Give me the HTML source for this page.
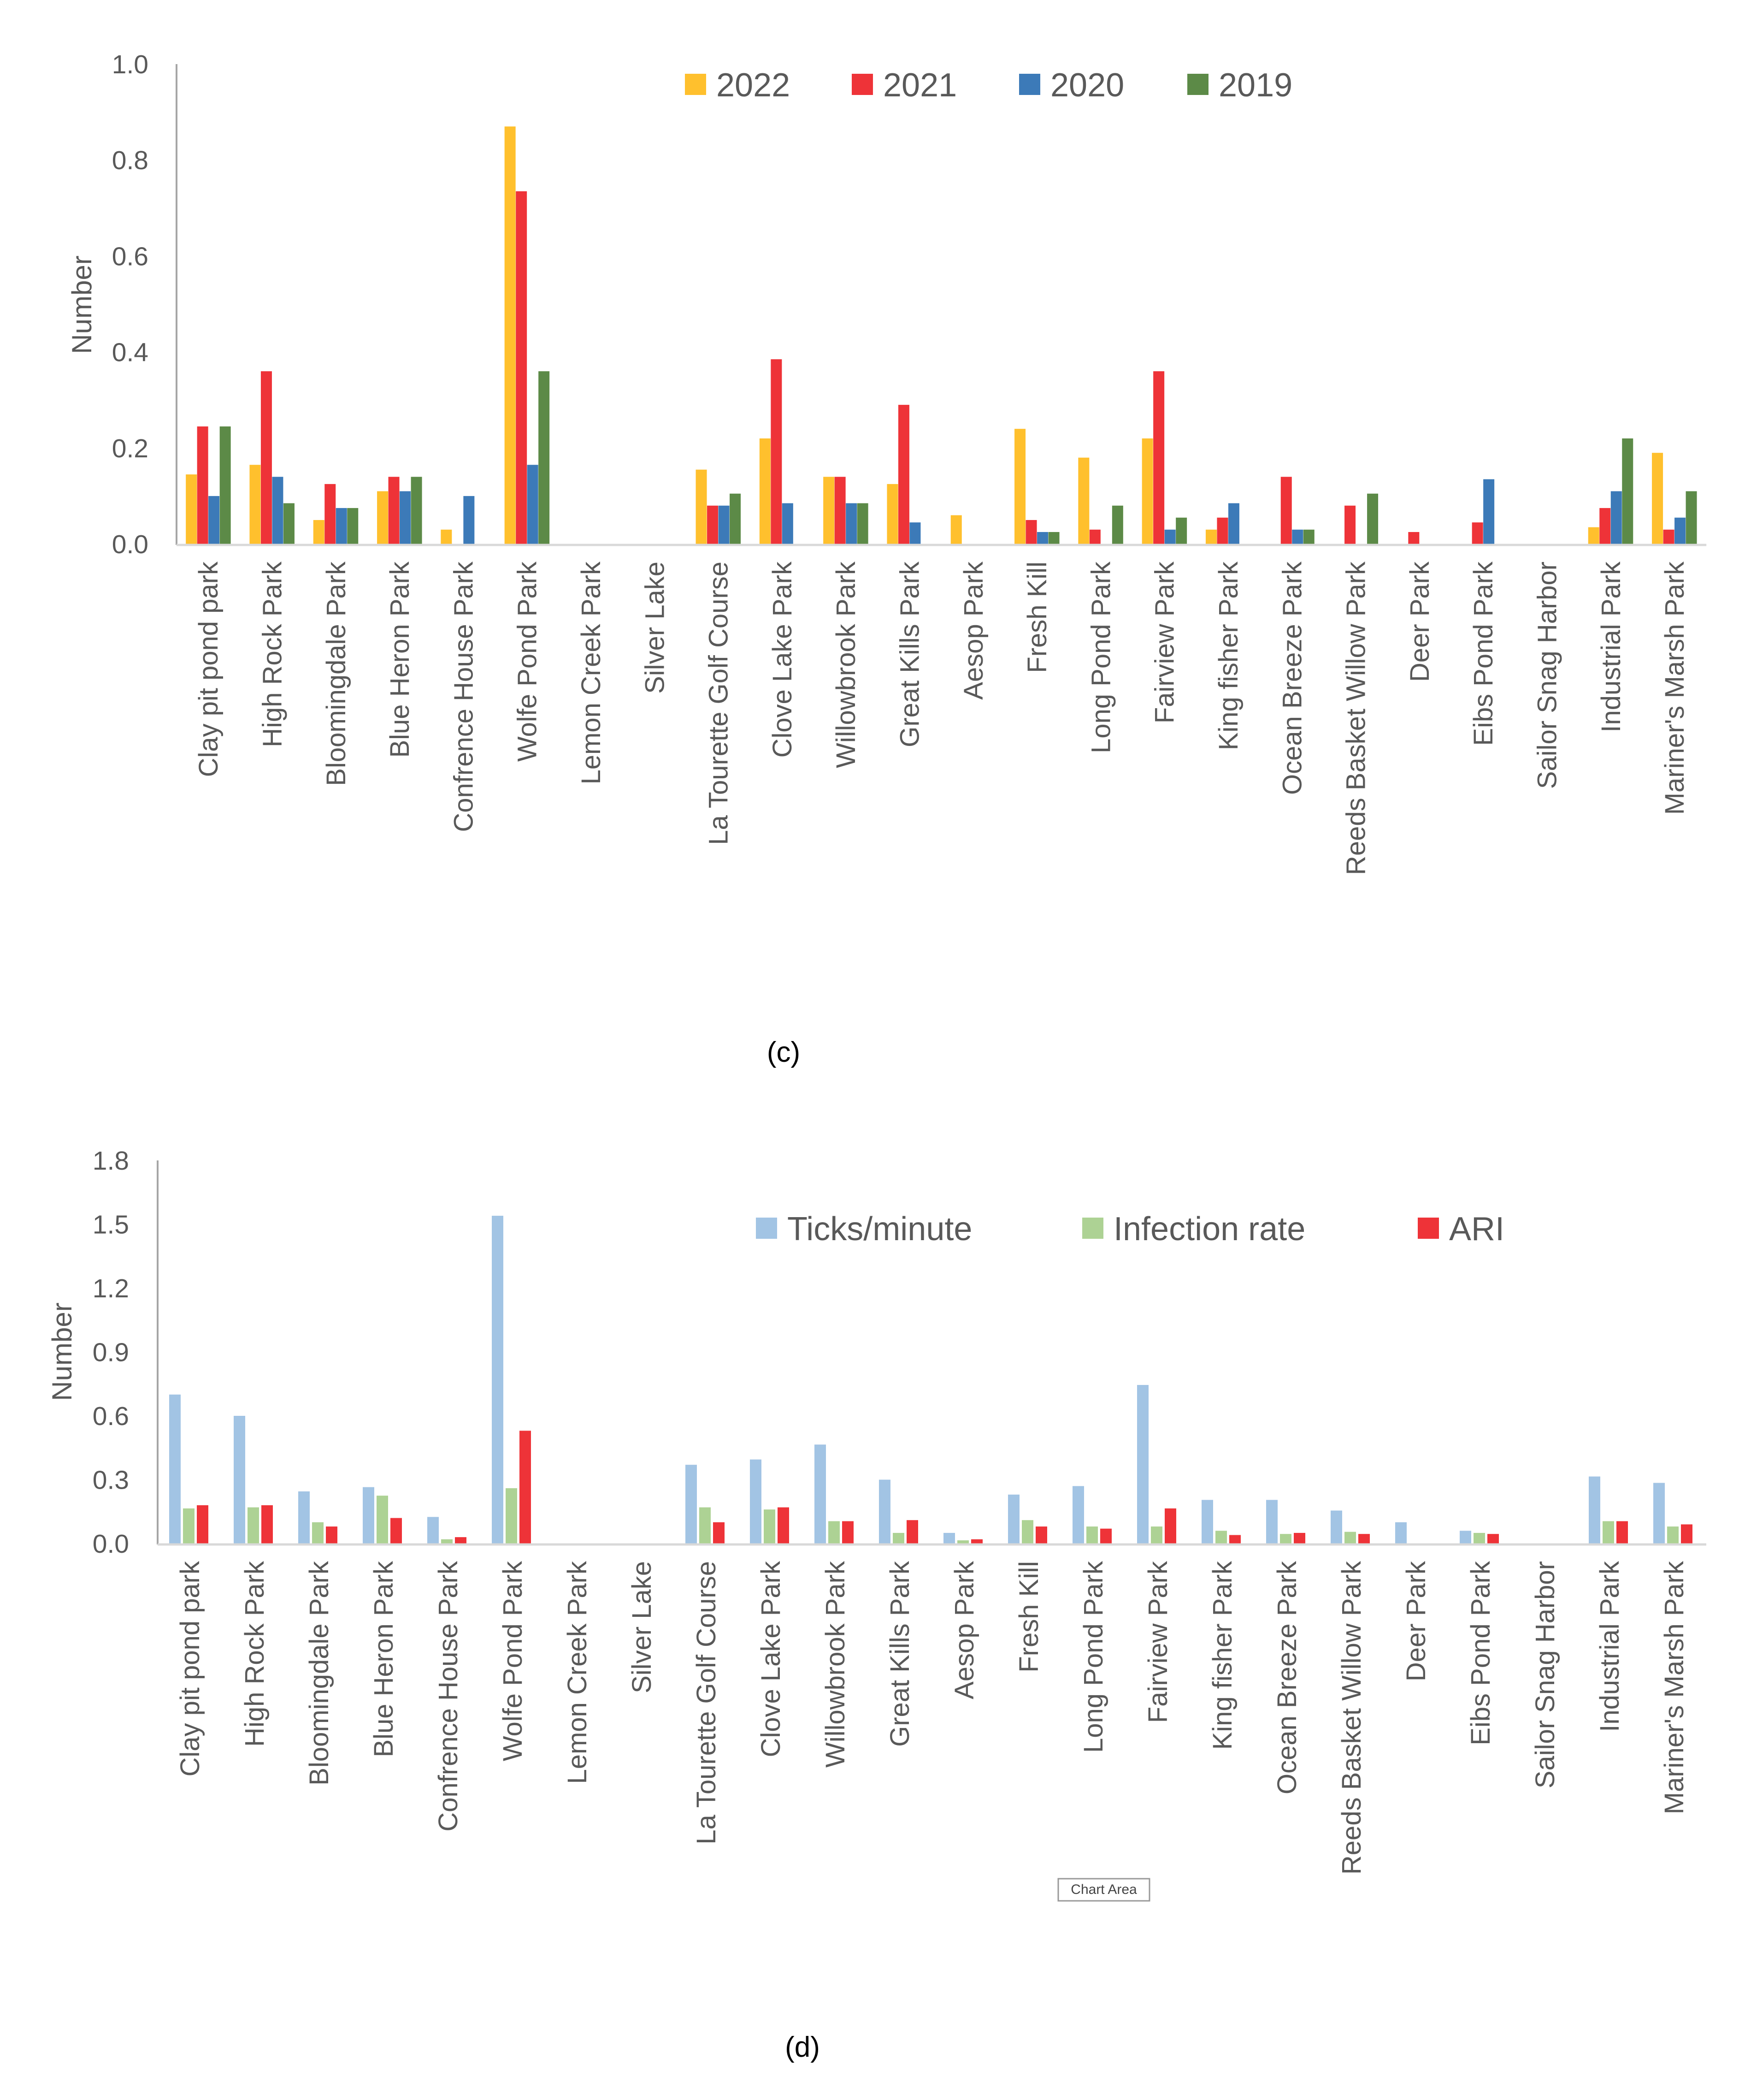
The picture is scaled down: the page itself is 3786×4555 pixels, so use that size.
<!DOCTYPE html>
<html><head><meta charset="utf-8">
<style>
html,body{margin:0;padding:0;background:#fff;}
svg{display:block;font-family:"Liberation Sans",sans-serif;}
</style></head>
<body>
<svg id="svg" width="3786" height="4555" viewBox="0 0 3786 4555" xmlns="http://www.w3.org/2000/svg">
<rect width="3786" height="4555" fill="#fff"/>
</svg>
<script>
const categories = ["Clay pit pond park","High Rock Park","Bloomingdale Park","Blue Heron Park","Confrence House Park","Wolfe Pond Park","Lemon Creek Park","Silver Lake","La Tourette Golf Course","Clove Lake Park","Willowbrook Park","Great Kills Park","Aesop Park","Fresh Kill","Long Pond Park","Fairview Park","King fisher Park","Ocean Breeze Park","Reeds Basket Willow Park","Deer Park","Eibs Pond Park","Sailor Snag Harbor","Industrial Park","Mariner's Marsh Park"];
const seriesC = ["2022","2021","2020","2019"];
const v2022 = [0.145,0.165,0.05,0.11,0.03,0.87,0,0,0.155,0.22,0.14,0.125,0.06,0.24,0.18,0.22,0.03,0,0,0,0,0,0.035,0.19];
const v2021 = [0.245,0.36,0.125,0.14,0,0.735,0,0,0.08,0.385,0.14,0.29,0,0.05,0.03,0.36,0.055,0.14,0.08,0.025,0.045,0,0.075,0.03];
const v2020 = [0.10,0.14,0.075,0.11,0.10,0.165,0,0,0.08,0.085,0.085,0.045,0,0.025,0,0.03,0.085,0.03,0,0,0.135,0,0.11,0.055];
const v2019 = [0.245,0.085,0.075,0.14,0,0.36,0,0,0.105,0,0.085,0,0,0.025,0.08,0.055,0,0.03,0.105,0,0,0,0.22,0.11];
const ticksC = ["0.0","0.2","0.4","0.6","0.8","1.0"];
const seriesD = ["Ticks/minute","Infection rate","ARI"];
const ticksPerMin = [0.70,0.60,0.245,0.265,0.125,1.54,0,0,0.37,0.395,0.465,0.30,0.05,0.23,0.27,0.745,0.205,0.205,0.155,0.10,0.06,0,0.315,0.285];
const infection = [0.165,0.17,0.10,0.225,0.02,0.26,0,0,0.17,0.16,0.105,0.05,0.015,0.11,0.08,0.08,0.06,0.045,0.055,0,0.05,0,0.105,0.08];
const ari = [0.18,0.18,0.08,0.12,0.03,0.53,0,0,0.10,0.17,0.105,0.11,0.02,0.08,0.07,0.165,0.04,0.05,0.045,0,0.045,0,0.105,0.09];
const ticksD = ["0.0","0.3","0.6","0.9","1.2","1.5","1.8"];

const NS="http://www.w3.org/2000/svg";
const svg=document.getElementById('svg');
function mk(tag,attrs,parent){const e=document.createElementNS(NS,tag);for(const k in attrs)e.setAttribute(k,attrs[k]);(parent||svg).appendChild(e);return e;}

function chart(o){
  const g=mk('g',{});
  
  
  const yScale=v=>o.base-(v/o.ymax)*(o.base-o.top);
  const xBand=i=>o.left+o.cw*i;
  o.ticks.forEach(t=>{
    const tx=mk('text',{x:o.tickRight,y:yScale(parseFloat(t))+20,'text-anchor':'end','font-size':57,fill:'#595959'},g);
    
    
    tx.textContent=t;
  });
  const n=o.series.length, gw=o.slot*n;
  o.series.forEach((vals,s)=>{
    vals.forEach((v,i)=>{
      if(v<=0)return;
      const x=xBand(i)+o.cw/2-gw/2+o.slot*s;
      const r=mk('rect',{x:x,y:yScale(v),width:o.bw,height:o.base-yScale(v),fill:o.colors[s]},g);
      
      
    });
  });
  const ya=mk('line',{x1:o.left,y1:o.top,x2:o.left,y2:o.base+2,stroke:'#a6a6a6','stroke-width':4},g);
  
  
  const xa=mk('line',{x1:o.left,y1:o.base+2,x2:xBand(categories.length),y2:o.base+2,stroke:'#d9d9d9','stroke-width':5},g);
  
  
  categories.forEach((c,i)=>{
    const cx=xBand(i)+o.cw/2+20, cy=o.base+38;
    const t=mk('text',{x:cx,y:cy,transform:`rotate(-90 ${cx} ${cy})`,'text-anchor':'end','font-size':58,fill:'#595959'},g);
    
    
    t.textContent=c;
  });
  const yt=mk('text',{x:o.titleX,y:o.titleY,transform:`rotate(-90 ${o.titleX} ${o.titleY})`,'text-anchor':'middle','font-size':60,fill:'#595959'},g);
  
  
  yt.textContent='Number';
  o.names.forEach((nm,s)=>{
    const lx=o.legX[s];
    const sw=mk('rect',{x:lx,y:o.legY-23,width:46,height:46,fill:o.colors[s]},g);
    
    
    const lt=mk('text',{x:lx+68,y:o.legY+26,'font-size':72,fill:'#595959'},g);
    
    
    lt.textContent=nm;
  });
}

chart({name:'chart-c',series:[v2022,v2021,v2020,v2019],names:seriesC,colors:['#FFC02D','#EE3338','#3C7AB8','#5C8A47'],
  ticks:ticksC,ymax:1.0,top:139,base:1180,left:383,cw:138.3,slot:24.5,bw:24,tickRight:322,titleX:198,titleY:661,
  legX:[1486,1848,2211,2576],legY:183});
chart({name:'chart-d',series:[ticksPerMin,infection,ari],names:seriesD,colors:['#A2C4E4','#ADD294','#EE3338'],
  ticks:ticksD,ymax:1.8,top:2517,base:3348,left:342,cw:140,slot:30,bw:25,tickRight:280,titleX:155,titleY:2932,
  legX:[1640,2348,3076],legY:2664});

const cc=mk('text',{x:1700,y:2303,'text-anchor':'middle','font-size':62,fill:'#000'});


cc.textContent='(c)';
const cd=mk('text',{x:1741,y:4461,'text-anchor':'middle','font-size':62,fill:'#000'});


cd.textContent='(d)';
const tipR=mk('rect',{x:2296,y:4075,width:198,height:48,fill:'#fff',stroke:'#999','stroke-width':3});


const tipT=mk('text',{x:2395,y:4108,'text-anchor':'middle','font-size':30,fill:'#444'});


tipT.textContent='Chart Area';
</script>
</body></html>
